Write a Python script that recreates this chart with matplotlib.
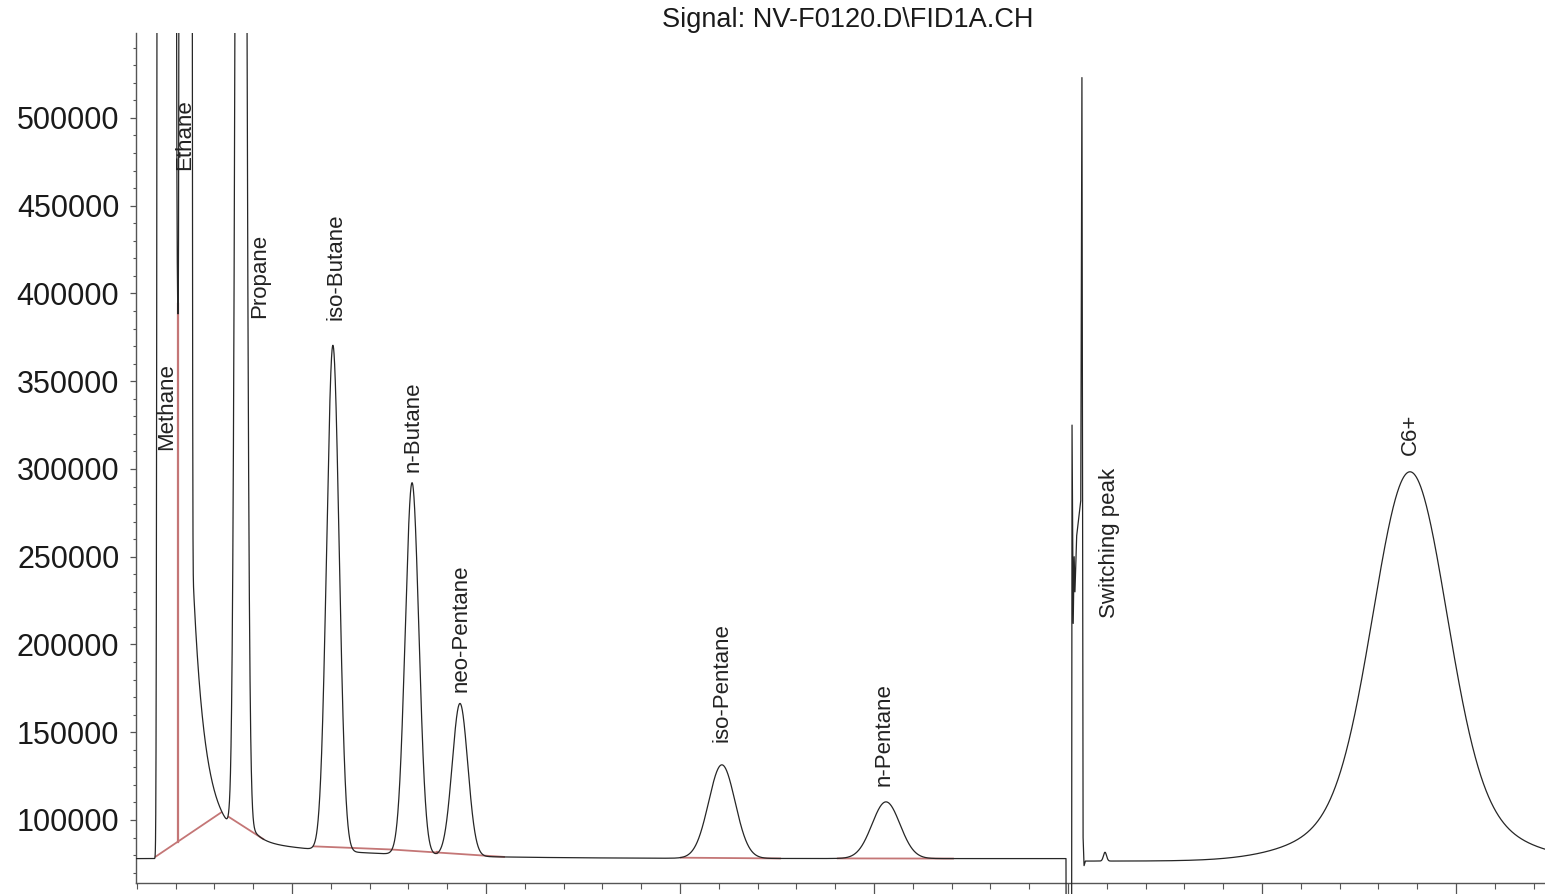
import numpy as np
import matplotlib
matplotlib.use("Agg")
import matplotlib.pyplot as plt
from matplotlib.patches import Rectangle
from matplotlib.ticker import MultipleLocator

plt.rcParams['font.family'] = ['Liberation Sans', 'DejaVu Sans']

# ---------------- data (retention time in min, signal in counts) ----------------
title = "Signal: NV-F0120.D\\FID1A.CH"

baseline_level = 78000          # before valve switch
baseline_level2 = 76600         # after valve switch
switch_time = 4.990

# off-scale (saturated) early peaks: flat-topped shapes
big_names = ["Methane", "Ethane", "Propane"]
big_rt = [0.353, 0.452, 0.737]
big_height = [3.0e6, 3.0e6, 1.8e6]
big_width = [0.0454, 0.0310, 0.0267]
big_power = [8, 8, 2]

# tailing of the early peaks (start time, amplitude, decay constant)
tail_start = [0.353, 0.452, 0.452, 0.737]
tail_amp = [700000, 100000, 17000, 20000]
tail_tau = [0.0722, 0.041, 0.567, 0.05]

# resolved peaks before the switch
peak_names = ["iso-Butane", "n-Butane", "neo-Pentane", "iso-Pentane", "n-Pentane"]
peak_rt = [1.211, 1.619, 1.866, 3.216, 4.062]
peak_height = [288000, 212000, 87000, 53300, 32300]
peak_sigma = [0.032, 0.035, 0.040, 0.068, 0.072]

# valve-switching disturbance (time, signal)
switch_t = [4.9905, 5.019, 5.021, 5.0235, 5.027, 5.032, 5.036, 5.045, 5.066,
            5.072, 5.078, 5.083, 5.090]
switch_v = [45000, 45000, 325000, 280000, 212000, 250000, 230000, 262000, 282000,
            523000, 90000, 74000, 76600]

# peaks after the switch (small bump, C6+ core and its broad wings)
post_rt = [5.191, 6.763, 6.763]
post_height = [5000, 188500, 33300]
post_sigma = [0.008, 0.1856, 0.387]

# integration baselines (start, end) and drop lines
integ_segments = [(0.294, 0.639), (0.670, 0.856), (1.108, 1.515), (1.515, 2.098),
                  (3.000, 3.521), (3.809, 4.412)]
drop_times = [0.411, 1.747]

# peak labels (time, signal at label start)
label_text = ["Methane", "Ethane", "Propane", "iso-Butane", "n-Butane", "neo-Pentane",
              "iso-Pentane", "n-Pentane", "Switching peak", "C6+"]
label_t = [0.356, 0.448, 0.835, 1.227, 1.624, 1.871, 3.216, 4.052, 5.216, 6.763]
label_v = [310900, 470500, 386100, 385000, 298400, 173000, 144500, 119400, 215100, 308000]

x_range = (0.196, 7.459)
y_range = (64100, 548400)

# ---------------- build trace ----------------
t1 = np.arange(x_range[0], switch_time, 0.0002)
v1 = np.full_like(t1, baseline_level, dtype=float)
for rt, h, w, p in zip(big_rt, big_height, big_width, big_power):
    v1 += h * np.exp(-np.abs((t1 - rt) / w) ** p)
for ts, a, tau in zip(tail_start, tail_amp, tail_tau):
    m = t1 >= ts
    v1[m] += a * np.exp(-(t1[m] - ts) / tau)
for rt, h, s in zip(peak_rt, peak_height, peak_sigma):
    v1 += h * np.exp(-0.5 * ((t1 - rt) / s) ** 2)

t2 = np.arange(5.092, x_range[1] + 0.001, 0.0005)
v2 = np.full_like(t2, baseline_level2, dtype=float)
for rt, h, s in zip(post_rt, post_height, post_sigma):
    v2 += h * np.exp(-0.5 * ((t2 - rt) / s) ** 2)

t = np.concatenate([t1, switch_t, t2])
v = np.concatenate([v1, switch_v, v2])

# ---------------- plot ----------------
fig = plt.figure(figsize=(15.45, 8.94), dpi=100)
ax = fig.add_axes([136 / 1545, 11 / 894, 1 - 136 / 1545, (883 - 33) / 894])

clip = Rectangle((0, -0.05), 1, 1.05, transform=ax.transAxes, facecolor='none')
line, = ax.plot(t, v, color='#262626', lw=0.9, zorder=3)
line.set_clip_path(clip)

red = '#c47676'
for a, b in integ_segments:
    ya, yb = np.interp([a, b], t, v)
    ax.plot([a, b], [ya, yb], color=red, lw=1.3, zorder=2, solid_capstyle='butt')
for td in drop_times:
    for a, b in integ_segments:
        if a <= td <= b:
            ya, yb = np.interp([a, b], t, v)
            yb0 = ya + (yb - ya) * (td - a) / (b - a)
            ax.plot([td, td], [yb0, np.interp(td, t, v)], color=red, lw=1.6, zorder=2)

for txt, lt, lv in zip(label_text, label_t, label_v):
    ax.text(lt, lv, txt, rotation=90, ha='center', va='bottom', fontsize=16,
            color='#222222', zorder=4)

ax.set_xlim(*x_range)
ax.set_ylim(*y_range)
for s in ['top', 'right']:
    ax.spines[s].set_visible(False)
for s in ['left', 'bottom']:
    ax.spines[s].set_color('#555555')
    ax.spines[s].set_linewidth(1.0)

ax.yaxis.set_major_locator(MultipleLocator(50000))
ax.yaxis.set_minor_locator(MultipleLocator(10000))
ax.xaxis.set_major_locator(MultipleLocator(1))
ax.xaxis.set_minor_locator(MultipleLocator(0.2))
ax.yaxis.set_major_formatter(plt.FuncFormatter(lambda val, pos: f"{int(round(val))}"))
ax.tick_params(axis='y', which='major', length=4, width=0.9, color='#555555',
               labelsize=22, labelcolor='#1a1a1a', pad=8)
ax.tick_params(axis='y', which='minor', length=2.3, width=0.8, color='#555555')
ax.tick_params(axis='x', which='major', length=8, width=0.9, color='#555555',
               labelbottom=False)
ax.tick_params(axis='x', which='minor', length=4.5, width=0.8, color='#555555')

fig.text(848 / 1545, 1 - 20 / 894, title, ha='center', va='center', fontsize=19.5,
         color='#1a1a1a')

fig.savefig("out.png", dpi=100)
